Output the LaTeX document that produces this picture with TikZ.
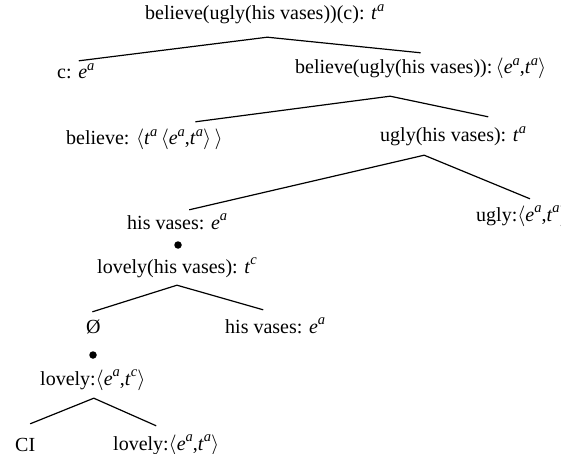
\documentclass[tikz,border=0pt]{standalone}
\usepackage{fontspec}
\setmainfont{Liberation Serif}
\newcommand{\semty}[2]{\textit{#1}\raisebox{0.42em}{\fontsize{14.5}{14.5}\selectfont\textit{#2}}}
\newcommand{\semfn}[4]{$\langle$\semty{#1}{#2},\semty{#3}{#4}$\rangle$}

\begin{document}
\begin{tikzpicture}[x=1pt, y=-1pt,
  lab/.style={anchor=base west, inner sep=0pt, text height=14pt, text depth=4pt,
    font=\fontsize{20}{24}\selectfont},
  dot/.style={circle, fill=black, inner sep=0pt, minimum size=7.5pt},
  branch/.style={line width=1.2pt}]
  \clip (0, 0) rectangle (561, 454);
  \fill[white] (0, 0) rectangle (561, 454);

  \node[lab] (root) at (145, 20) {believe(ugly(his vases))(c): \semty{t}{a}};
  \node[lab] (c) at (57, 79) {c: \semty{e}{a}};
  \node[lab] (bu) at (295, 74) {believe(ugly(his vases)):\,\semfn{e}{a}{t}{a}};
  \node[lab] (bel) at (66, 145) {believe: $\langle$\semty{t}{a}\,\semfn{e}{a}{t}{a}\,$\rangle$};
  \node[lab] (uh) at (380, 142) {ugly(his vases): \semty{t}{a}};
  \node[lab] (hv) at (127, 229) {his vases: \semty{e}{a}};
  \node[lab] (ug) at (476, 221) {ugly:\semfn{e}{a}{t}{a}};
  \node[dot] (d1) at (178, 245) {};
  \node[lab] (lh) at (97, 273) {lovely(his vases): \semty{t}{c}};
  \node[lab] (empty) at (86, 333) {Ø};
  \node[lab] (hvb) at (225, 333) {his vases: \semty{e}{a}};
  \node[dot] (d2) at (93, 355) {};
  \node[lab] (ltc) at (40, 385) {lovely:\semfn{e}{a}{t}{c}};
  \node[lab] (ci) at (15, 451) {CI};
  \node[lab] (lta) at (113, 450) {lovely:\semfn{e}{a}{t}{a}};

  \coordinate (root-j) at ([shift={(2.5, 13)}]root.south);
  \coordinate (bu-j) at ([shift={(-30.5, 18)}]bu.south);
  \coordinate (uh-j) at ([shift={(-29, 9)}]uh.south);
  \coordinate (lh-j) at ([shift={(0, 8)}]lh.south);
  \coordinate (ltc-j) at ([shift={(1, 9)}]ltc.south);

  \draw[branch] ([shift={(3, -4)}]c.north) -- (root-j) -- ([shift={(0, -7)}]bu.north);
  \draw[branch] ([shift={(51, -9)}]bel.north) -- (bu-j) -- ([shift={(35, -11)}]uh.north);
  \draw[branch] ([shift={(12, -5)}]hv.north) -- (uh-j) -- ([shift={(8, -8)}]ug.north);
  \draw[branch] ([shift={(-1, -7)}]empty.north) -- (lh-j) -- ([shift={(-12, -9)}]hvb.north);
  \draw[branch] ([shift={(5, -13)}]ci.north) -- (ltc-j) -- ([shift={(-10, -10)}]lta.north);
\end{tikzpicture}
\end{document}
